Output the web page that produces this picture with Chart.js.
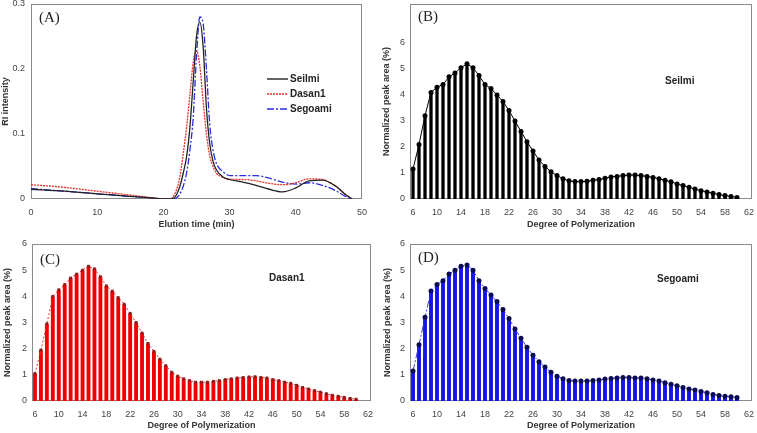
<!DOCTYPE html>
<html>
<head>
<meta charset="utf-8">
<script src="https://cdn.jsdelivr.net/npm/chart.js@4"></script>
<style>
  body { margin: 0; background: #fff; width: 757px; height: 433px; position: relative; overflow: hidden; }
  canvas { position: absolute; }
</style>
</head>
<body>
<canvas id="chartA" style="left:0;top:0" width="378" height="233"></canvas>
<canvas id="chartB" style="left:378px;top:0" width="379" height="233"></canvas>
<canvas id="chartC" style="left:0;top:233px" width="378" height="200"></canvas>
<canvas id="chartD" style="left:378px;top:233px" width="379" height="200"></canvas>
<script>
// (A) RI chromatogram
const elutionTime = [0, 5, 10, 15, 19, 20, 21, 21.5, 22, 22.5, 23, 23.5, 24, 24.5, 25, 25.5, 26, 26.5, 27, 27.5,
  28, 29, 30, 32, 34, 36, 38, 40, 42, 44, 46, 47.5, 48.5];
const seilmiRI = [0.015, 0.012, 0.008, 0.004, 0.001, 0, 0, 0.001, 0.007, 0.02, 0.04, 0.065, 0.11, 0.18, 0.25, 0.272, 0.235, 0.14, 0.085, 0.058,
  0.045, 0.034, 0.030, 0.026, 0.021, 0.015, 0.011, 0.017, 0.028, 0.029, 0.020, 0.007, 0];
const dasanRI = [0.022, 0.018, 0.012, 0.006, 0.001, 0, 0, 0.004, 0.015, 0.035, 0.07, 0.11, 0.16, 0.21, 0.228, 0.205, 0.15, 0.1, 0.066, 0.05,
  0.04, 0.033, 0.030, 0.030, 0.028, 0.024, 0.022, 0.025, 0.031, 0.030, 0.020, 0.007, 0];
const segoamiRI = [0.016, 0.012, 0.008, 0.004, 0.001, 0, 0, 0, 0.002, 0.008, 0.02, 0.04, 0.075, 0.125, 0.22, 0.28, 0.27, 0.2, 0.115, 0.075,
  0.055, 0.042, 0.036, 0.036, 0.036, 0.032, 0.026, 0.023, 0.025, 0.021, 0.013, 0.004, 0];

// (B)-(D) peak area by degree of polymerization
const dpLabels = [6, 7, 8, 9, 10, 11, 12, 13, 14, 15, 16, 17, 18, 19, 20, 21, 22, 23, 24, 25, 26, 27, 28, 29, 30,
  31, 32, 33, 34, 35, 36, 37, 38, 39, 40, 41, 42, 43, 44, 45, 46, 47, 48, 49, 50, 51, 52, 53, 54, 55, 56, 57, 58, 59, 60, 61, 62];
const seilmiArea = [1.15, 2.1, 3.2, 4.1, 4.3, 4.4, 4.7, 4.85, 5.05, 5.2, 5.05, 4.75, 4.4, 4.25, 4.0, 3.75, 3.4, 3.0, 2.6, 2.2,
  1.85, 1.5, 1.25, 1.05, 0.9, 0.78, 0.7, 0.67, 0.67, 0.68, 0.72, 0.75, 0.8, 0.85, 0.87, 0.9, 0.92, 0.92, 0.9, 0.87,
  0.83, 0.78, 0.72, 0.66, 0.58, 0.52, 0.45, 0.38, 0.32, 0.27, 0.22, 0.17, 0.13, 0.1, 0.06];
const dasanArea = [1.05, 1.95, 2.95, 4.0, 4.25, 4.45, 4.7, 4.85, 5.0, 5.15, 5.05, 4.75, 4.4, 4.2, 3.95, 3.7, 3.35, 3.0, 2.6, 2.2,
  1.9, 1.6, 1.35, 1.1, 0.95, 0.85, 0.78, 0.72, 0.72, 0.72, 0.75, 0.78, 0.82, 0.85, 0.88, 0.9, 0.92, 0.93, 0.9, 0.88,
  0.82, 0.78, 0.72, 0.68, 0.6, 0.52, 0.46, 0.4, 0.34, 0.28, 0.22, 0.18, 0.14, 0.1, 0.07];
const segoamiArea = [1.15, 2.15, 3.2, 4.2, 4.45, 4.6, 4.85, 5.0, 5.15, 5.2, 5.0, 4.6, 4.3, 4.05, 3.8, 3.5, 3.15, 2.75, 2.4, 2.05,
  1.75, 1.5, 1.3, 1.1, 0.95, 0.85, 0.78, 0.76, 0.76, 0.76, 0.78, 0.8, 0.84, 0.86, 0.88, 0.9, 0.9, 0.88, 0.88, 0.85,
  0.8, 0.76, 0.7, 0.64, 0.58, 0.52, 0.46, 0.42, 0.36, 0.32, 0.25, 0.21, 0.18, 0.16, 0.13];

Chart.defaults.font.family = '"Liberation Sans", Arial, sans-serif';
Chart.defaults.font.size = 9;
Chart.defaults.color = '#444';
Chart.defaults.animation = false;

// Fix an axis' thickness and drop the label overhang so layout padding decides the plot box
function fixAxis(size) {
  return s => {
    if (s.isHorizontal()) s.height = size; else s.width = size;
    s.paddingTop = s.paddingBottom = s.paddingLeft = s.paddingRight = 0;
  };
}

// Grey box round the plot, panel tag, sample name and optional legend
const framePlugin = {
  id: 'frame',
  beforeDatasetsDraw(chart, args, opts) {
    const { ctx, chartArea: a } = chart;
    ctx.save();
    ctx.strokeStyle = '#8a8a8a';
    ctx.lineWidth = 1;
    ctx.strokeRect(Math.round(a.left) + 0.5, Math.round(a.top) + 0.5,
      Math.round(a.right - a.left) - 1, Math.round(a.bottom - a.top) - 1);
    ctx.restore();
  },
  afterDraw(chart, args, opts) {
    const { ctx, chartArea: a } = chart;
    ctx.save();
    ctx.textBaseline = 'middle';
    ctx.fillStyle = '#222';
    ctx.font = '15px "Liberation Serif", "Times New Roman", serif';
    ctx.fillText(opts.tag, a.left + 8, a.top + opts.tagY);
    ctx.font = 'bold 10px "Liberation Sans", Arial, sans-serif';
    if (opts.note) ctx.fillText(opts.note, a.left + opts.noteX, a.top + opts.noteY);
    (opts.legend || []).forEach((item, i) => {
      const y = a.top + 75 + i * 15;
      ctx.strokeStyle = item.color;
      ctx.lineWidth = 1.4;
      ctx.setLineDash(item.dash);
      ctx.beginPath();
      ctx.moveTo(a.left + 236, y);
      ctx.lineTo(a.left + 257, y);
      ctx.stroke();
      ctx.setLineDash([]);
      ctx.fillText(item.text, a.left + 259, y);
    });
    ctx.restore();
  }
};
Chart.register(framePlugin);

// (A)
const riLooks = [
  { text: 'Seilmi', values: seilmiRI, color: '#222', dash: [] },
  { text: 'Dasan1', values: dasanRI, color: '#e8302a', dash: [2, 1] },
  { text: 'Segoami', values: segoamiRI, color: '#2b2be0', dash: [7, 2, 2, 2] }
];
new Chart(document.getElementById('chartA'), {
  type: 'line',
  data: {
    datasets: riLooks.map(s => ({
      label: s.text,
      data: elutionTime.map((t, i) => ({ x: t, y: s.values[i] })),
      borderColor: s.color,
      borderWidth: 1.3,
      borderDash: s.dash,
      pointRadius: 0,
      cubicInterpolationMode: 'monotone'
    }))
  },
  options: {
    responsive: false,
    layout: { padding: { left: 0, top: 4, right: 16, bottom: 0 } },
    plugins: {
      legend: { display: false },
      tooltip: { enabled: false },
      frame: { tag: '(A)', tagY: 14, legend: riLooks }
    },
    scales: {
      x: {
        type: 'linear', min: 0, max: 50,
        grid: { display: false, drawTicks: false },
        border: { display: false },
        ticks: { stepSize: 10, padding: 8, maxRotation: 0 },
        title: { display: true, text: 'Elution time (min)', font: { weight: 'bold' }, color: '#333', padding: { top: 0, bottom: 3 } },
        afterFit: fixAxis(34)
      },
      y: {
        min: 0, max: 0.3,
        grid: { display: false, drawTicks: false },
        border: { display: false },
        ticks: { stepSize: 0.1, padding: 6 },
        title: { display: true, text: 'RI intensity', font: { weight: 'bold' }, color: '#333', padding: { top: 0, bottom: 0 } },
        afterFit: fixAxis(31)
      }
    }
  }
});

// (B)-(D)
function dpChart(canvasId, values, look) {
  return new Chart(document.getElementById(canvasId), {
    type: 'bar',
    data: {
      labels: dpLabels,
      datasets: [
        {
          type: 'line', data: values, order: 0,
          borderColor: look.line, borderWidth: 1, borderDash: look.dash,
          pointStyle: look.pointStyle, pointRadius: look.pointRadius,
          pointBackgroundColor: look.point, pointBorderColor: look.point, pointBorderWidth: 0
        },
        {
          type: 'bar', data: values, order: 1,
          backgroundColor: look.bar, barPercentage: look.barPct, categoryPercentage: 1
        }
      ]
    },
    options: {
      responsive: false,
      layout: { padding: { left: 0, top: look.top, right: look.right, bottom: 0 } },
      plugins: {
        legend: { display: false },
        tooltip: { enabled: false },
        frame: { tag: look.tag, tagY: look.tagY, note: look.note, noteX: look.noteX, noteY: look.noteY }
      },
      scales: {
        x: {
          type: 'category', offset: true,
          grid: { display: false, drawTicks: false },
          border: { display: false },
          ticks: {
            autoSkip: false, maxRotation: 0, padding: 8,
            callback: function (v, i) { return i % 4 === 0 ? this.getLabelForValue(v) : ''; }
          },
          title: { display: true, text: 'Degree of Polymerization', font: { weight: 'bold' }, color: '#333', padding: { top: 0, bottom: look.xTitlePad } },
          afterFit: fixAxis(look.xHeight)
        },
        y: {
          min: 0, max: look.yMax,
          grid: { display: false, drawTicks: false },
          border: { display: false },
          ticks: { stepSize: 1, padding: 5 },
          afterBuildTicks: s => { s.ticks = s.ticks.filter(t => t.value <= 6); },
          title: { display: true, text: 'Normalized peak area (%)', font: { weight: 'bold' }, color: '#333', padding: { top: look.yTitlePad, bottom: 0 } },
          afterFit: fixAxis(32)
        }
      }
    }
  });
}

dpChart('chartB', seilmiArea, {
  bar: '#000', line: '#000', dash: [], point: '#000', pointStyle: 'circle', pointRadius: 2.5, barPct: 0.55,
  top: 4, right: 5, yMax: 7.5, xHeight: 34, xTitlePad: 3, yTitlePad: 3.6,
  tag: '(B)', tagY: 13, note: 'Seilmi', noteX: 255, noteY: 77
});
dpChart('chartC', dasanArea, {
  bar: '#f00000', line: '#e83030', dash: [2, 2], point: '#8b1a1a', pointStyle: 'rect', pointRadius: 2, barPct: 0.65,
  top: 11, right: 7, yMax: 6, xHeight: 32, xTitlePad: 2, yTitlePad: 2.6,
  tag: '(C)', tagY: 16, note: 'Dasan1', noteX: 237, noteY: 34
});
dpChart('chartD', segoamiArea, {
  bar: '#1414e6', line: '#3a3ae0', dash: [7, 2, 2, 2], point: '#0b0b55', pointStyle: 'circle', pointRadius: 2.5, barPct: 0.65,
  top: 11, right: 5, yMax: 6, xHeight: 32, xTitlePad: 2, yTitlePad: 4.6,
  tag: '(D)', tagY: 14, note: 'Segoami', noteX: 247, noteY: 35
});
</script>
</body>
</html>
